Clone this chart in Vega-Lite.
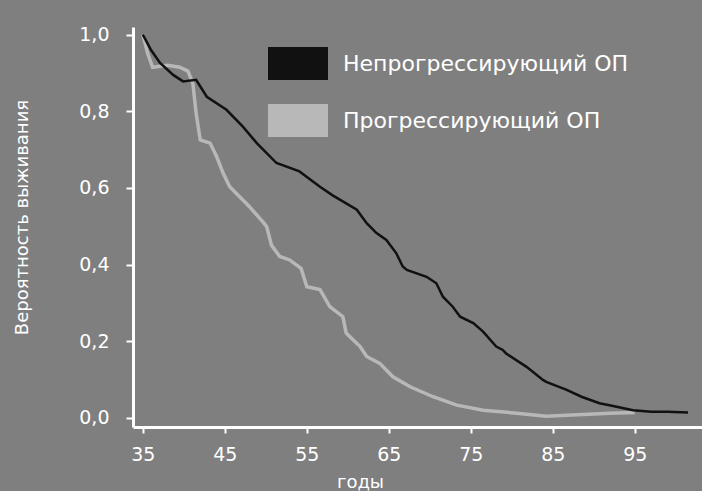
{
  "$schema": "https://vega.github.io/schema/vega-lite/v6.json",
  "width": 569,
  "height": 400,
  "autosize": {"type": "none"},
  "padding": {"left": 133, "top": 27, "right": 0, "bottom": 64},
  "background": "#7f7f7f",
  "config": {"view": {"stroke": null}, "font": "DejaVu Sans"},
  "data": {
    "values": [
      {"series": "Непрогрессирующий ОП", "age": 35, "p": 1.0},
      {"series": "Непрогрессирующий ОП", "age": 36, "p": 0.96},
      {"series": "Непрогрессирующий ОП", "age": 37.1, "p": 0.926},
      {"series": "Непрогрессирующий ОП", "age": 38.7, "p": 0.895},
      {"series": "Непрогрессирующий ОП", "age": 39.9, "p": 0.878},
      {"series": "Непрогрессирующий ОП", "age": 41.5, "p": 0.882},
      {"series": "Непрогрессирующий ОП", "age": 42.8, "p": 0.838},
      {"series": "Непрогрессирующий ОП", "age": 45.2, "p": 0.804},
      {"series": "Непрогрессирующий ОП", "age": 47.2, "p": 0.76},
      {"series": "Непрогрессирующий ОП", "age": 48.9, "p": 0.717},
      {"series": "Непрогрессирующий ОП", "age": 51.3, "p": 0.665},
      {"series": "Непрогрессирующий ОП", "age": 54.1, "p": 0.643},
      {"series": "Непрогрессирующий ОП", "age": 56.6, "p": 0.603},
      {"series": "Непрогрессирующий ОП", "age": 58.2, "p": 0.58},
      {"series": "Непрогрессирующий ОП", "age": 61.1, "p": 0.543},
      {"series": "Непрогрессирующий ОП", "age": 62.3, "p": 0.508},
      {"series": "Непрогрессирующий ОП", "age": 63.5, "p": 0.482},
      {"series": "Непрогрессирующий ОП", "age": 64.7, "p": 0.464},
      {"series": "Непрогрессирующий ОП", "age": 65.9, "p": 0.43},
      {"series": "Непрогрессирующий ОП", "age": 66.7, "p": 0.395},
      {"series": "Непрогрессирующий ОП", "age": 67.2, "p": 0.386},
      {"series": "Непрогрессирующий ОП", "age": 69.6, "p": 0.368},
      {"series": "Непрогрессирующий ОП", "age": 70.8, "p": 0.351},
      {"series": "Непрогрессирующий ОП", "age": 71.6, "p": 0.316},
      {"series": "Непрогрессирующий ОП", "age": 72.8, "p": 0.29},
      {"series": "Непрогрессирующий ОП", "age": 73.7, "p": 0.264},
      {"series": "Непрогрессирующий ОП", "age": 75.3, "p": 0.247},
      {"series": "Непрогрессирующий ОП", "age": 76.5, "p": 0.225},
      {"series": "Непрогрессирующий ОП", "age": 78.1, "p": 0.186},
      {"series": "Непрогрессирующий ОП", "age": 78.9, "p": 0.177},
      {"series": "Непрогрессирующий ОП", "age": 79.3, "p": 0.168},
      {"series": "Непрогрессирующий ОП", "age": 81.8, "p": 0.133},
      {"series": "Непрогрессирующий ОП", "age": 83.8, "p": 0.099},
      {"series": "Непрогрессирующий ОП", "age": 84.2, "p": 0.094},
      {"series": "Непрогрессирующий ОП", "age": 86.7, "p": 0.073},
      {"series": "Непрогрессирующий ОП", "age": 88.5, "p": 0.055},
      {"series": "Непрогрессирующий ОП", "age": 90.7, "p": 0.038},
      {"series": "Непрогрессирующий ОП", "age": 92.5, "p": 0.03},
      {"series": "Непрогрессирующий ОП", "age": 94.8, "p": 0.02},
      {"series": "Непрогрессирующий ОП", "age": 97, "p": 0.016},
      {"series": "Непрогрессирующий ОП", "age": 99, "p": 0.016},
      {"series": "Непрогрессирующий ОП", "age": 101.5, "p": 0.014},
      {"series": "Прогрессирующий ОП", "age": 35, "p": 1.0},
      {"series": "Прогрессирующий ОП", "age": 35.6, "p": 0.95},
      {"series": "Прогрессирующий ОП", "age": 36.2, "p": 0.915},
      {"series": "Прогрессирующий ОП", "age": 38, "p": 0.92},
      {"series": "Прогрессирующий ОП", "age": 39.5, "p": 0.915},
      {"series": "Прогрессирующий ОП", "age": 40.5, "p": 0.905},
      {"series": "Прогрессирующий ОП", "age": 41.1, "p": 0.873},
      {"series": "Прогрессирующий ОП", "age": 41.5, "p": 0.795},
      {"series": "Прогрессирующий ОП", "age": 42.0, "p": 0.725},
      {"series": "Прогрессирующий ОП", "age": 43.2, "p": 0.717},
      {"series": "Прогрессирующий ОП", "age": 44.0, "p": 0.682},
      {"series": "Прогрессирующий ОП", "age": 44.8, "p": 0.638},
      {"series": "Прогрессирующий ОП", "age": 45.6, "p": 0.603},
      {"series": "Прогрессирующий ОП", "age": 46.8, "p": 0.577},
      {"series": "Прогрессирующий ОП", "age": 47.6, "p": 0.56},
      {"series": "Прогрессирующий ОП", "age": 48.0, "p": 0.551},
      {"series": "Прогрессирующий ОП", "age": 49.7, "p": 0.51},
      {"series": "Прогрессирующий ОП", "age": 50.1, "p": 0.499},
      {"series": "Прогрессирующий ОП", "age": 50.7, "p": 0.45},
      {"series": "Прогрессирующий ОП", "age": 51.7, "p": 0.421},
      {"series": "Прогрессирующий ОП", "age": 52.9, "p": 0.412},
      {"series": "Прогрессирующий ОП", "age": 54.3, "p": 0.39},
      {"series": "Прогрессирующий ОП", "age": 55.0, "p": 0.342},
      {"series": "Прогрессирующий ОП", "age": 56.6, "p": 0.335},
      {"series": "Прогрессирующий ОП", "age": 57.8, "p": 0.29},
      {"series": "Прогрессирующий ОП", "age": 59.4, "p": 0.264},
      {"series": "Прогрессирующий ОП", "age": 59.8, "p": 0.221},
      {"series": "Прогрессирующий ОП", "age": 61.5, "p": 0.186},
      {"series": "Прогрессирующий ОП", "age": 62.3, "p": 0.16},
      {"series": "Прогрессирующий ОП", "age": 63.9, "p": 0.142},
      {"series": "Прогрессирующий ОП", "age": 65.5, "p": 0.107},
      {"series": "Прогрессирующий ОП", "age": 67.6, "p": 0.081},
      {"series": "Прогрессирующий ОП", "age": 70.4, "p": 0.055},
      {"series": "Прогрессирующий ОП", "age": 73.3, "p": 0.033},
      {"series": "Прогрессирующий ОП", "age": 76.5, "p": 0.02},
      {"series": "Прогрессирующий ОП", "age": 80.6, "p": 0.012},
      {"series": "Прогрессирующий ОП", "age": 84.2, "p": 0.004},
      {"series": "Прогрессирующий ОП", "age": 88, "p": 0.008},
      {"series": "Прогрессирующий ОП", "age": 92, "p": 0.012},
      {"series": "Прогрессирующий ОП", "age": 95, "p": 0.014}
    ]
  },
  "encoding": {
    "x": {
      "field": "age",
      "type": "quantitative",
      "scale": {"domain": [33.8, 103.2], "nice": false, "zero": false},
      "axis": {
        "values": [35, 45, 55, 65, 75, 85, 95],
        "title": "годы",
        "grid": false,
        "domainColor": "white",
        "domainWidth": 3,
        "tickColor": "white",
        "tickWidth": 2,
        "tickSize": 6,
        "labelColor": "white",
        "labelFontSize": 19,
        "labelFont": "DejaVu Sans",
        "labelPadding": 12,
        "labelFlush": false,
        "titleColor": "white",
        "titleFontSize": 18,
        "titleFont": "DejaVu Sans",
        "titleFontWeight": "normal",
        "titleX": 227,
        "titleY": 46,
        "titleBaseline": "top"
      }
    },
    "y": {
      "field": "p",
      "type": "quantitative",
      "scale": {"domain": [-0.024, 1.02], "nice": false, "zero": false},
      "axis": {
        "values": [0, 0.2, 0.4, 0.6, 0.8, 1.0],
        "labelExpr": "replace(format(datum.value, '.1f'), '.', ',')",
        "title": "Вероятность выживания",
        "grid": false,
        "domainColor": "white",
        "domainWidth": 3,
        "tickColor": "white",
        "tickWidth": 2,
        "tickSize": 7,
        "labelColor": "white",
        "labelFontSize": 19,
        "labelFont": "DejaVu Sans",
        "labelPadding": 17,
        "labelFlush": false,
        "titleColor": "white",
        "titleFontSize": 18,
        "titleFont": "DejaVu Sans",
        "titleFontWeight": "normal",
        "titleX": -111,
        "titleY": 190,
        "titleBaseline": "middle"
      }
    },
    "color": {
      "field": "series",
      "type": "nominal",
      "scale": {
        "domain": ["Непрогрессирующий ОП", "Прогрессирующий ОП"],
        "range": ["#111111", "#b8b8b8"]
      },
      "legend": {
        "title": null,
        "orient": "none",
        "legendX": 150,
        "legendY": 21.5,
        "padding": 0,
        "symbolType": "M-2,-1.1L2,-1.1L2,1.1L-2,1.1Z",
        "symbolSize": 900,
        "labelColor": "white",
        "labelFontSize": 22,
        "labelFont": "DejaVu Sans",
        "labelOffset": 30,
        "labelLimit": 0,
        "rowPadding": 23,
        "encode": {
          "symbols": {
            "update": {
              "fill": {"scale": "color", "field": "value"},
              "stroke": {"value": "transparent"},
              "strokeWidth": {"value": 0},
              "opacity": {"value": 1}
            }
          }
        }
      }
    }
  },
  "layer": [
    {
      "transform": [{"filter": "datum.series === 'Прогрессирующий ОП'"}],
      "mark": {"type": "line", "strokeWidth": 3.5}
    },
    {
      "transform": [{"filter": "datum.series === 'Непрогрессирующий ОП'"}],
      "mark": {"type": "line", "strokeWidth": 2.5}
    }
  ]
}
